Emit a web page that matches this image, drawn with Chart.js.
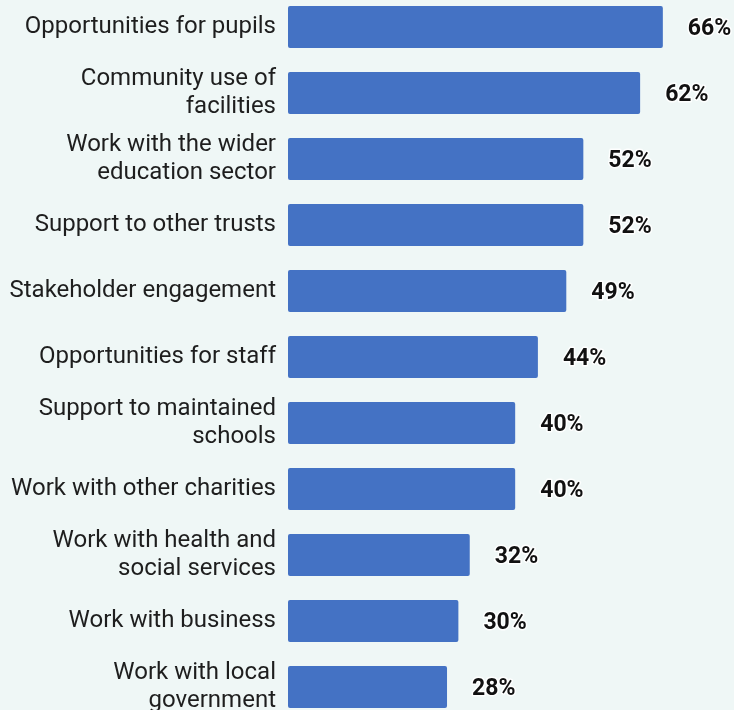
<!DOCTYPE html>
<html>
<head>
<meta charset="utf-8">
<script src="https://cdn.jsdelivr.net/npm/chart.js@4/dist/chart.umd.min.js"></script>
<style>
  html, body { margin: 0; padding: 0; background: #eff7f6; overflow: hidden; }
  #wrap { position: absolute; left: 0; top: -6px; width: 734px; height: 726px; }
</style>
</head>
<body>
<div id="wrap"><canvas id="myChart"></canvas></div>
<script>
// Areas of activity, share of respondents (%)
var categories = [
  'Opportunities for pupils',
  ['Community use of', 'facilities'],
  ['Work with the wider', 'education sector'],
  'Support to other trusts',
  'Stakeholder engagement',
  'Opportunities for staff',
  ['Support to maintained', 'schools'],
  'Work with other charities',
  ['Work with health and', 'social services'],
  'Work with business',
  ['Work with local', 'government']
];
var values = [66, 62, 52, 52, 49, 44, 40, 40, 32, 30, 28];

// writes "NN%" just past the end of each bar
var valueLabels = {
  id: 'valueLabels',
  afterDatasetsDraw: function(chart) {
    var ctx = chart.ctx;
    var meta = chart.getDatasetMeta(0);
    ctx.save();
    ctx.font = 'bold 23px Roboto';
    ctx.textAlign = 'left';
    ctx.textBaseline = 'middle';
    ctx.lineJoin = 'round';
    meta.data.forEach(function(bar, i) {
      var txt = values[i] + '%';
      var x = bar.x + 25;
      var y = bar.y + 2;
      ctx.strokeStyle = 'rgba(255,255,255,0.9)';
      ctx.lineWidth = 3;
      ctx.strokeText(txt, x, y);
      ctx.fillStyle = '#111111';
      ctx.fillText(txt, x, y);
    });
    ctx.restore();
  }
};

var ctx = document.getElementById('myChart').getContext('2d');
var myChart = new Chart(ctx, {
  type: 'bar',
  data: {
    labels: categories,
    datasets: [{
      data: values,
      backgroundColor: '#4472c4',
      borderRadius: 2,
      borderSkipped: false,
      barPercentage: 0.64,
      categoryPercentage: 1
    }]
  },
  options: {
    indexAxis: 'y',
    responsive: true,
    maintainAspectRatio: false,
    animation: false,
    layout: { padding: { right: 3 } },
    plugins: {
      legend: { display: false },
      tooltip: { enabled: false }
    },
    scales: {
      x: {
        display: false,
        min: 0,
        max: 78
      },
      y: {
        grid: { display: false, drawTicks: false },
        border: { display: false },
        ticks: {
          padding: 12,
          color: '#1e1e1e',
          font: { family: 'Roboto', size: 24, lineHeight: 1.17 }
        },
        afterFit: function(scale) {
          scale.width = 288;
          scale.paddingTop = 0;
          scale.paddingBottom = 0;
        }
      }
    }
  },
  plugins: [valueLabels]
});
</script>
</body>
</html>
